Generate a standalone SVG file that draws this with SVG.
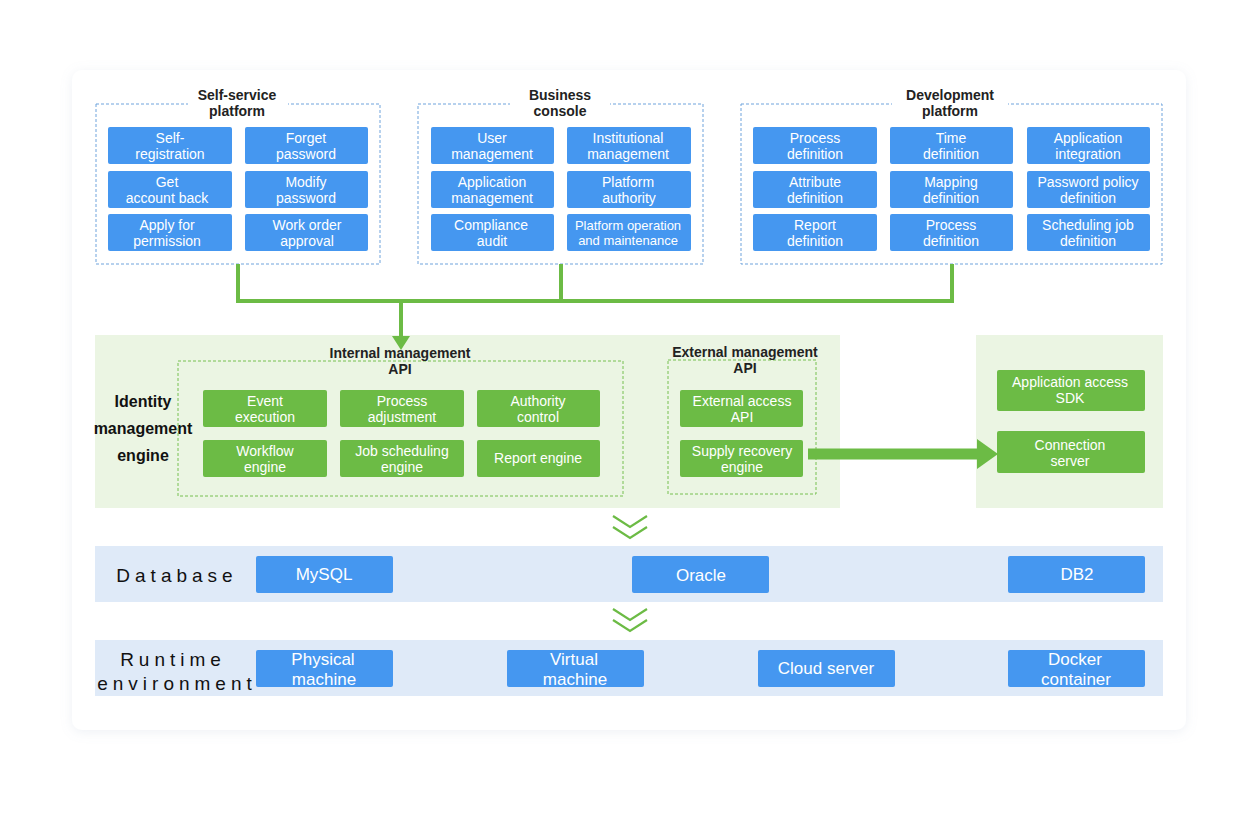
<svg xmlns="http://www.w3.org/2000/svg" width="1260" height="817" viewBox="0 0 1260 817">
<defs>
<filter id="sh" x="-5%" y="-5%" width="110%" height="110%">
<feDropShadow dx="0" dy="2" stdDeviation="6" flood-color="#8aa0c0" flood-opacity="0.15"/>
</filter>
<style>
text{font-family:"Liberation Sans",Arial,sans-serif;}
.b{fill:#4597f0;}
.g{fill:#6cbb45;}
.t{fill:#fff;font-size:14px;text-anchor:middle;}
.ts{fill:#fff;font-size:13px;text-anchor:middle;}
.tl{fill:#fff;font-size:17px;text-anchor:middle;}
.h{fill:#222;font-size:14px;font-weight:bold;text-anchor:middle;}
.db{fill:#4597f0;stroke:none;}
.dbox{fill:none;stroke:#6fa3dc;stroke-width:1;stroke-dasharray:3 2;}
.gbox{fill:none;stroke:#76c050;stroke-width:1;stroke-dasharray:3 2;}
.cn{fill:none;stroke:#6cbb45;stroke-width:4;}
.ch{fill:none;stroke:#6cbb45;stroke-width:2.2;}
.lb{fill:#111;font-size:19px;letter-spacing:5px;text-anchor:middle;}
.ie{fill:#111;font-size:16px;font-weight:bold;text-anchor:middle;}
</style>
</defs>
<rect width="1260" height="817" fill="#fff"/>
<rect x="72" y="70" width="1114" height="660" rx="10" fill="#fff" filter="url(#sh)"/>

<g id="self-service">
<rect class="dbox" x="96" y="104" width="284" height="160"/>
<rect x="188" y="99" width="100" height="10" fill="#fff"/>
<text class="h" x="237" y="100">Self-service<tspan x="237" dy="16">platform</tspan></text>
<rect class="b" x="108" y="127" width="124" height="37" rx="2"/>
<text class="t" x="170" y="143">Self-<tspan x="170" dy="16">registration</tspan></text>
<rect class="b" x="245" y="127" width="123" height="37" rx="2"/>
<text class="t" x="306" y="143">Forget<tspan x="306" dy="16">password</tspan></text>
<rect class="b" x="108" y="171" width="124" height="37" rx="2"/>
<text class="t" x="167" y="187">Get<tspan x="167" dy="16">account back</tspan></text>
<rect class="b" x="245" y="171" width="123" height="37" rx="2"/>
<text class="t" x="306" y="187">Modify<tspan x="306" dy="16">password</tspan></text>
<rect class="b" x="108" y="214" width="124" height="37" rx="2"/>
<text class="t" x="167" y="230">Apply for<tspan x="167" dy="16">permission</tspan></text>
<rect class="b" x="245" y="214" width="123" height="37" rx="2"/>
<text class="t" x="307" y="230">Work order<tspan x="307" dy="16">approval</tspan></text>
</g>

<g id="business-console">
<rect class="dbox" x="418" y="104" width="285" height="160"/>
<rect x="510" y="99" width="100" height="10" fill="#fff"/>
<text class="h" x="560" y="100">Business<tspan x="560" dy="16">console</tspan></text>
<rect class="b" x="431" y="127" width="123" height="37" rx="2"/>
<text class="t" x="492" y="143">User<tspan x="492" dy="16">management</tspan></text>
<rect class="b" x="567" y="127" width="124" height="37" rx="2"/>
<text class="t" x="628" y="143">Institutional<tspan x="628" dy="16">management</tspan></text>
<rect class="b" x="431" y="171" width="123" height="37" rx="2"/>
<text class="t" x="492" y="187">Application<tspan x="492" dy="16">management</tspan></text>
<rect class="b" x="567" y="171" width="124" height="37" rx="2"/>
<text class="t" x="628" y="187">Platform<tspan x="629" dy="16">authority</tspan></text>
<rect class="b" x="431" y="214" width="123" height="37" rx="2"/>
<text class="t" x="491" y="230">Compliance<tspan x="492" dy="16">audit</tspan></text>
<rect class="b" x="567" y="214" width="124" height="37" rx="2"/>
<text class="ts" x="628" y="230">Platform operation<tspan x="628" dy="15">and maintenance</tspan></text>
</g>

<g id="development-platform">
<rect class="dbox" x="741" y="104" width="421" height="160"/>
<rect x="892" y="99" width="116" height="10" fill="#fff"/>
<text class="h" x="950" y="100">Development<tspan x="950" dy="16">platform</tspan></text>
<rect class="b" x="753" y="127" width="124" height="37" rx="2"/>
<text class="t" x="815" y="143">Process<tspan x="815" dy="16">definition</tspan></text>
<rect class="b" x="890" y="127" width="123" height="37" rx="2"/>
<text class="t" x="951" y="143">Time<tspan x="951" dy="16">definition</tspan></text>
<rect class="b" x="1027" y="127" width="123" height="37" rx="2"/>
<text class="t" x="1088" y="143">Application<tspan x="1088" dy="16">integration</tspan></text>
<rect class="b" x="753" y="171" width="124" height="37" rx="2"/>
<text class="t" x="815" y="187">Attribute<tspan x="815" dy="16">definition</tspan></text>
<rect class="b" x="890" y="171" width="123" height="37" rx="2"/>
<text class="t" x="951" y="187">Mapping<tspan x="951" dy="16">definition</tspan></text>
<rect class="b" x="1027" y="171" width="123" height="37" rx="2"/>
<text class="t" x="1088" y="187">Password policy<tspan x="1088" dy="16">definition</tspan></text>
<rect class="b" x="753" y="214" width="124" height="37" rx="2"/>
<text class="t" x="815" y="230">Report<tspan x="815" dy="16">definition</tspan></text>
<rect class="b" x="890" y="214" width="123" height="37" rx="2"/>
<text class="t" x="951" y="230">Process<tspan x="951" dy="16">definition</tspan></text>
<rect class="b" x="1027" y="214" width="123" height="37" rx="2"/>
<text class="t" x="1088" y="230">Scheduling job<tspan x="1088" dy="16">definition</tspan></text>
</g>

<g id="identity-engine">
<rect x="95" y="335" width="745" height="173" fill="#ebf5e3"/>
<text class="ie" x="143" y="407">Identity<tspan x="143" dy="27">management</tspan><tspan x="143" dy="27">engine</tspan></text>
</g>
<g id="internal-api">
<rect class="gbox" x="178" y="361" width="445" height="135"/>
<text class="h" x="400" y="358">Internal management<tspan x="400" dy="16">API</tspan></text>
<rect class="g" x="203" y="390" width="124" height="37" rx="2"/>
<text class="t" x="265" y="406">Event<tspan x="265" dy="16">execution</tspan></text>
<rect class="g" x="340" y="390" width="124" height="37" rx="2"/>
<text class="t" x="402" y="406">Process<tspan x="402" dy="16">adjustment</tspan></text>
<rect class="g" x="477" y="390" width="123" height="37" rx="2"/>
<text class="t" x="538" y="406">Authority<tspan x="538" dy="16">control</tspan></text>
<rect class="g" x="203" y="440" width="124" height="37" rx="2"/>
<text class="t" x="265" y="456">Workflow<tspan x="265" dy="16">engine</tspan></text>
<rect class="g" x="340" y="440" width="124" height="37" rx="2"/>
<text class="t" x="402" y="456">Job scheduling<tspan x="402" dy="16">engine</tspan></text>
<rect class="g" x="477" y="440" width="123" height="37" rx="2"/>
<text class="t" x="538" y="463">Report engine</text>
</g>
<g id="external-api">
<rect class="gbox" x="668" y="360" width="148" height="134"/>
<text class="h" x="745" y="357">External management<tspan x="745" dy="16">API</tspan></text>
<rect class="g" x="680" y="390" width="123" height="37" rx="2"/>
<text class="t" x="742" y="406">External access<tspan x="742" dy="16">API</tspan></text>
<rect class="g" x="680" y="440" width="123" height="37" rx="2"/>
<text class="t" x="742" y="456">Supply recovery<tspan x="742" dy="16">engine</tspan></text>
</g>

<g id="access-panel">
<rect x="976" y="335" width="187" height="173" fill="#ebf5e3"/>
<rect class="g" x="997" y="370" width="148" height="41" rx="2"/>
<text class="t" x="1070" y="387">Application access<tspan x="1070" dy="16">SDK</tspan></text>
<rect class="g" x="997" y="431" width="148" height="42" rx="2"/>
<text class="t" x="1070" y="450">Connection<tspan x="1070" dy="16">server</tspan></text>
</g>

<g id="database">
<rect x="95" y="546" width="1068" height="56" fill="#dfeaf8"/>
<text class="lb" x="177" y="582">Database</text>
<rect class="db" x="256" y="556" width="137" height="37" rx="2"/>
<text class="tl" x="324" y="580">MySQL</text>
<rect class="db" x="632" y="556" width="137" height="37" rx="2"/>
<text class="tl" x="701" y="581">Oracle</text>
<rect class="db" x="1008" y="556" width="137" height="37" rx="2"/>
<text class="tl" x="1077" y="580">DB2</text>
</g>

<g id="runtime">
<rect x="95" y="640" width="1068" height="56" fill="#dfeaf8"/>
<text class="lb" x="173" y="666">Runtime<tspan x="177" dy="24">environment</tspan></text>
<rect class="db" x="256" y="650" width="137" height="37" rx="2"/>
<text class="tl" x="323" y="665">Physical<tspan x="324" dy="19.5">machine</tspan></text>
<rect class="db" x="507" y="650" width="137" height="37" rx="2"/>
<text class="tl" x="574" y="665">Virtual<tspan x="575" dy="19.5">machine</tspan></text>
<rect class="db" x="758" y="650" width="137" height="37" rx="2"/>
<text class="tl" x="826" y="674">Cloud server</text>
<rect class="db" x="1008" y="650" width="137" height="37" rx="2"/>
<text class="tl" x="1075" y="665">Docker<tspan x="1076" dy="19.5">container</tspan></text>
</g>

<g id="connectors">
<polyline class="cn" points="238,264 238,301 952,301 952,264"/>
<line class="cn" x1="561" y1="264" x2="561" y2="301"/>
<line class="cn" x1="401" y1="301" x2="401" y2="338"/>
<polygon points="392,336 410,336 401,350" fill="#6cbb45"/>
<line x1="808" y1="454" x2="980" y2="454" stroke="#6cbb45" stroke-width="11"/>
<polygon points="977,439 998,454 977,469" fill="#6cbb45"/>
<polyline class="ch" points="613,516 630,527 647,516"/>
<polyline class="ch" points="613,527 630,538 647,527"/>
<polyline class="ch" points="613,609 630,620 647,609"/>
<polyline class="ch" points="613,620 630,631 647,620"/>
</g>
</svg>
